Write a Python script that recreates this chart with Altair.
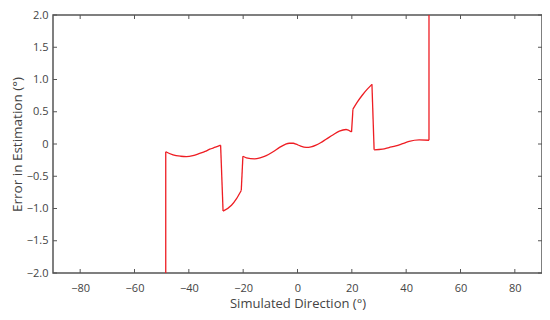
import altair as alt
import pandas as pd

# Curve samples (Simulated Direction in deg, Error in deg), split into pieces
# seg: pieces between the jumps (smooth parts) and the jumps themselves
direction = [-48.5, -48.5,
             -48.5, -45.8, -43.0, -40.9, -38.5, -36.0, -34.0, -32.3, -30.2, -28.3,
             -28.3, -27.4,
             -27.4, -24.3, -22.5, -20.7,
             -20.7, -20.1,
             -20.1, -18.8, -15.8, -13.5, -11.5, -9.0, -6.6, -4.5, -3.0, -1.5, -0.5,
             1.0, 3.2, 5.0, 6.8, 8.5, 10.5, 13.0, 15.4, 17.9, 19.9,
             19.9, 20.4,
             20.4, 22.0, 23.9, 25.7, 27.4,
             27.4, 28.2,
             28.2, 31.3, 33.7, 36.2, 38.7, 41.1, 44.8, 48.4,
             48.4, 48.4]
error = [-3.0, -0.12,
         -0.12, -0.17, -0.19, -0.195, -0.18, -0.145, -0.115, -0.08, -0.05, -0.018,
         -0.018, -1.04,
         -1.04, -0.95, -0.85, -0.72,
         -0.72, -0.19,
         -0.19, -0.215, -0.23, -0.21, -0.18, -0.12, -0.053, -0.005, 0.012, 0.012, -0.003,
         -0.03, -0.053, -0.045, -0.018, 0.02, 0.073, 0.14, 0.2, 0.225, 0.185,
         0.185, 0.54,
         0.54, 0.65, 0.76, 0.85, 0.925,
         0.925, -0.09,
         -0.09, -0.08, -0.055, -0.03, 0.005, 0.04, 0.063, 0.058,
         0.058, 3.0]
segment = [0, 0,
           1, 1, 1, 1, 1, 1, 1, 1, 1, 1,
           2, 2,
           3, 3, 3, 3,
           4, 4,
           5, 5, 5, 5, 5, 5, 5, 5, 5, 5, 5,
           5, 5, 5, 5, 5, 5, 5, 5, 5, 5,
           6, 6,
           7, 7, 7, 7, 7,
           8, 8,
           9, 9, 9, 9, 9, 9, 9, 9,
           10, 10]

x_ticks = [-80, -60, -40, -20, 0, 20, 40, 60, 80]
y_ticks = [-2.0, -1.5, -1.0, -0.5, 0.0, 0.5, 1.0, 1.5, 2.0]

W, H = 489, 258
FONT = "Open Sans"
AX = "#555555"
TXT = "#444444"

df = pd.DataFrame({"x": direction, "y": error, "seg": segment,
                   "i": range(len(direction))})
xt = pd.DataFrame({"t": x_ticks})
yt = pd.DataFrame({"t": y_ticks})

xscale = alt.Scale(domain=[-90, 90], nice=False, zero=False)
yscale = alt.Scale(domain=[-2, 2], nice=False, zero=False)

xaxis = alt.Axis(title="Simulated Direction (°)", values=x_ticks, ticks=False,
                 grid=False, domain=False, labelPadding=9, titlePadding=4,
                 labelFont=FONT, titleFont=FONT, labelFontSize=11,
                 titleFontSize=13, titleFontWeight="normal",
                 labelColor=TXT, titleColor=TXT, labelOverlap=False)
yaxis = alt.Axis(title="Error in Estimation (°)", values=y_ticks, ticks=False,
                 grid=False, domain=False, labelPadding=5, titlePadding=2,
                 labelFont=FONT, titleFont=FONT, labelFontSize=11,
                 titleFontSize=13.5, titleFontWeight="normal",
                 labelColor=TXT, titleColor=TXT, labelOverlap=False,
                 labelExpr="datum.value == 0 ? '0' : format(datum.value, '.1f')")

line = alt.Chart(df).mark_line(color="#ee1d23", strokeWidth=1.3, clip=True,
                               interpolate="monotone").encode(
    x=alt.X("x:Q", scale=xscale, axis=xaxis),
    y=alt.Y("y:Q", scale=yscale, axis=yaxis),
    detail="seg:N",
    order="i:Q",
)

tick_len = 4
bx = alt.Chart(xt).mark_rule(color=AX, strokeWidth=1).encode(
    x=alt.X("t:Q", scale=xscale, axis=xaxis), y=alt.value(H), y2=alt.value(H - tick_len))
tx = alt.Chart(xt).mark_rule(color=AX, strokeWidth=1).encode(
    x=alt.X("t:Q", scale=xscale, axis=xaxis), y=alt.value(0), y2=alt.value(tick_len))
ly = alt.Chart(yt).mark_rule(color=AX, strokeWidth=1).encode(
    y=alt.Y("t:Q", scale=yscale, axis=yaxis), x=alt.value(0), x2=alt.value(tick_len))
ry = alt.Chart(yt).mark_rule(color=AX, strokeWidth=1).encode(
    y=alt.Y("t:Q", scale=yscale, axis=yaxis), x=alt.value(W), x2=alt.value(W - tick_len))

chart = alt.layer(line, bx, tx, ly, ry).properties(
    width=W, height=H,
    autosize=alt.AutoSizeParams(type="none"),
    padding={"left": 45, "top": 7, "right": 0, "bottom": 38},
).configure_view(stroke=AX, strokeWidth=1.5)

chart.save("out.html", embed_options={"renderer": "svg", "actions": False})
